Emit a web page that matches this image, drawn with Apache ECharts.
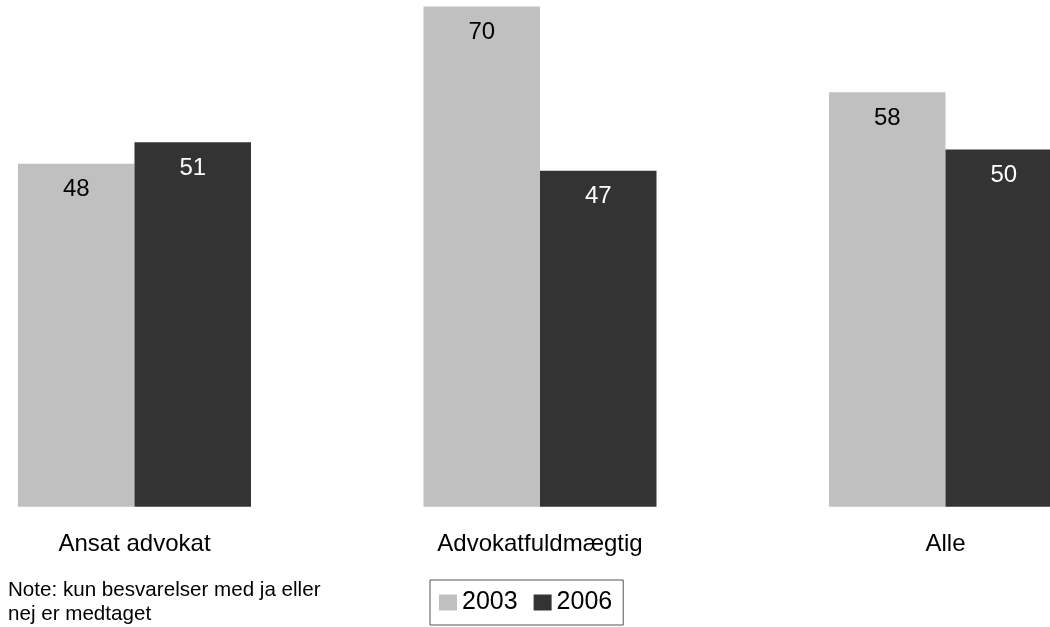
<!DOCTYPE html>
<html>
<head>
<meta charset="utf-8">
<script src="https://cdn.jsdelivr.net/npm/echarts@6/dist/echarts.min.js"></script>
<style>
html,body{margin:0;padding:0;background:#fff;}
#main{width:1050px;height:627px;}
</style>
</head>
<body>
<div id="main"></div>
<script>
var categories = ['Ansat advokat', 'Advokatfuldmægtig', 'Alle'];
var values2003 = [48, 70, 58];
var values2006 = [51, 47, 50];
var seriesNames = ['2003', '2006'];
var noteText = 'Note: kun besvarelser med ja eller\nnej er medtaget';

var FONT = '"Liberation Sans", Arial, sans-serif';
var chart = echarts.init(document.getElementById('main'), null, {renderer: 'canvas'});
chart.setOption({
  animation: false,
  backgroundColor: '#ffffff',
  textStyle: {fontFamily: FONT},
  grid: {left: -68.25, width: 1216.5, top: 6.5, height: 500.2, containLabel: false, outerBoundsMode: 'none'},
  xAxis: {
    type: 'category',
    data: categories,
    axisLine: {show: false},
    axisTick: {show: false},
    axisLabel: {fontSize: 24, color: '#000', margin: 26, fontFamily: FONT}
  },
  yAxis: {type: 'value', min: 0, max: 70, show: false, splitLine: {show: false}},
  legend: {
    left: 430, top: 580,
    padding: [10, 11, 10, 9],
    borderColor: '#555', borderWidth: 1,
    itemWidth: 18, itemHeight: 16, itemGap: 16,
    icon: 'rect',
    textStyle: {fontSize: 25, color: '#000', fontFamily: FONT},
    data: seriesNames
  },
  series: [
    {
      name: seriesNames[0], type: 'bar', data: values2003,
      barWidth: 116.5, barGap: '0%',
      itemStyle: {color: '#c0c0c0'},
      label: {show: true, position: 'insideTop', distance: 14, fontSize: 24, color: '#000', fontFamily: FONT}
    },
    {
      name: seriesNames[1], type: 'bar', data: values2006,
      barWidth: 116.5, barGap: '0%',
      itemStyle: {color: '#333333'},
      label: {show: true, position: 'insideTop', distance: 14, fontSize: 24, color: '#fff', fontFamily: FONT}
    }
  ],
  graphic: [{
    type: 'text', left: 8, top: 578,
    style: {text: noteText, fontSize: 20.6, lineHeight: 24, fill: '#000', fontFamily: FONT}
  }]
});
</script>
</body>
</html>
